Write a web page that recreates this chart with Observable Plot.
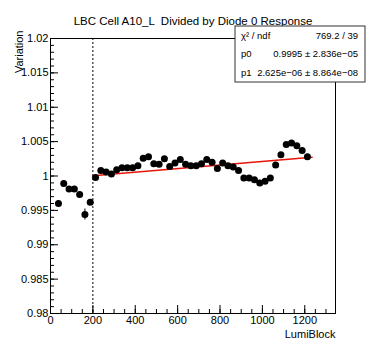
<!DOCTYPE html>
<html>
<head>
<meta charset="utf-8">
<script src="https://cdn.jsdelivr.net/npm/d3@7"></script>
<script src="https://cdn.jsdelivr.net/npm/@observablehq/plot@0.6"></script>
<style>
  html, body { margin: 0; padding: 0; background: #fff; }
  svg { display: block; }
</style>
</head>
<body>
<div id="chart"></div>
<script>
const title = "LBC Cell A10_L  Divided by Diode 0 Response";
const xTitle = "LumiBlock";
const yTitle = "Variation";

const lumiBlock = [37.5, 62.5, 87.5, 112.5, 137.5, 162.5, 187.5, 212.5, 237.5, 262.5,
  287.5, 312.5, 337.5, 362.5, 387.5, 412.5, 437.5, 462.5, 487.5, 512.5,
  537.5, 562.5, 587.5, 612.5, 637.5, 662.5, 687.5, 712.5, 737.5, 762.5,
  787.5, 812.5, 837.5, 862.5, 887.5, 912.5, 937.5, 962.5, 987.5, 1012.5,
  1037.5, 1062.5, 1087.5, 1112.5, 1137.5, 1162.5, 1187.5, 1212.5];
const variation = [0.9960, 0.9989, 0.9981, 0.9981, 0.9973, 0.9944, 0.9962, 0.9998, 1.0008, 1.0006,
  1.0003, 1.0009, 1.0012, 1.0012, 1.0012, 1.0015, 1.0026, 1.0028, 1.0018, 1.0017,
  1.0025, 1.0014, 1.0019, 1.0024, 1.0017, 1.0015, 1.0015, 1.0018, 1.0024, 1.0020,
  1.0011, 1.0019, 1.0015, 1.0013, 1.0008, 0.9997, 0.9997, 0.99945, 0.9990, 0.99925,
  0.9997, 1.0016, 1.0031, 1.0046, 1.0048, 1.0044, 1.0037, 1.0028];
const variationErr = [0.0004, 0.0003, 0.0003, 0.0003, 0.0003, 0.0008, 0.0004, 0.0003, 0.0003, 0.0003,
  0.0003, 0.0003, 0.0003, 0.0003, 0.0003, 0.0003, 0.0003, 0.0003, 0.0003, 0.0003,
  0.0003, 0.0003, 0.0003, 0.0003, 0.0003, 0.0003, 0.0003, 0.0003, 0.0003, 0.0003,
  0.0003, 0.0003, 0.0003, 0.0003, 0.0003, 0.0003, 0.0003, 0.0003, 0.0003, 0.0003,
  0.0003, 0.0003, 0.0003, 0.0003, 0.0003, 0.0003, 0.0003, 0.0003];

const fitP0 = 0.9995;
const fitP1 = 2.625e-06;
const fitRange = [200, 1235];
const cutLumiBlock = [200];

const statsLabels = ["\u03C7\u00B2 / ndf", "p0", "p1"];
const statsValues = ["769.2 / 39", "0.9995 \u00B1 2.836e\u221205", "2.625e\u221206 \u00B1 8.864e\u221208"];

const xDomain = [0, 1345];
const yDomain = [0.98, 1.02];
const xMajor = [0, 200, 400, 600, 800, 1000, 1200];
const xMinor = d3.range(0, 1345, 50);
const yMajor = [0.98, 0.985, 0.99, 0.995, 1, 1.005, 1.01, 1.015, 1.02];
const yMinor = d3.range(0, 41).map(i => +(0.98 + i * 0.001).toFixed(3));

const W = 366, H = 340;
const mL = 50, mR = 31, mT = 38, mB = 27;
const xPerPx = (xDomain[1] - xDomain[0]) / (W - mL - mR);
const yPerPx = (yDomain[1] - yDomain[0]) / (H - mT - mB);

const points = lumiBlock.map((x, i) => ({x, y: variation[i], e: variationErr[i]}));
const fit = fitRange.map(x => ({x, y: fitP0 + fitP1 * x}));

const font = "'Liberation Sans', Arial, Helvetica, sans-serif";

const plot = Plot.plot({
  width: W, height: H,
  marginLeft: mL, marginRight: mR, marginTop: mT, marginBottom: mB,
  style: {fontFamily: font, fontSize: "11px", color: "#000", background: "#fff"},
  x: {domain: xDomain},
  y: {domain: yDomain},
  marks: [
    Plot.ruleX(cutLumiBlock, {stroke: "#000", strokeWidth: 1, strokeDasharray: "2,2"}),
    Plot.ruleX(points, {x: "x", y1: d => d.y - d.e, y2: d => d.y + d.e, stroke: "#000", strokeWidth: 1}),
    Plot.line(fit, {x: "x", y: "y", stroke: "#e8140c", strokeWidth: 1.5}),
    Plot.dot(points, {x: "x", y: "y", r: 3.5, fill: "#000", stroke: "none"}),
    Plot.ruleX(xMinor, {y1: yDomain[0], y2: yDomain[0] + 4 * yPerPx, stroke: "#000"}),
    Plot.ruleX(xMajor, {y1: yDomain[0], y2: yDomain[0] + 8 * yPerPx, stroke: "#000"}),
    Plot.ruleY(yMinor, {x1: xDomain[0], x2: xDomain[0] + 4 * xPerPx, stroke: "#000"}),
    Plot.ruleY(yMajor, {x1: xDomain[0], x2: xDomain[0] + 8 * xPerPx, stroke: "#000"}),
    Plot.frame({stroke: "#000", strokeWidth: 1}),
    Plot.axisX({ticks: xMajor, tickSize: 0, tickPadding: 3, tickFormat: d => String(d), label: null, fontSize: 11}),
    Plot.axisY({ticks: yMajor, tickSize: 0, tickPadding: 2, tickFormat: d => String(+d.toFixed(3)), label: null, fontSize: 11}),
    Plot.text([xTitle], {frameAnchor: "bottom-right", textAnchor: "end", dy: 24, fontSize: 11}),
    Plot.text([yTitle], {frameAnchor: "top-left", textAnchor: "end", rotate: -90, dx: -35, dy: -8, fontSize: 11}),
    Plot.text([title], {frameAnchor: "top", dy: -22, fontSize: 11.5})
  ]
});

// Fit statistics box (ROOT stats pave)
const svg = d3.select(plot);
const box = {x: 235, y: 26, w: 130, h: 56};
const g = svg.append("g").attr("font-family", font).attr("font-size", 9.5).attr("text-anchor", "start");
g.append("rect").attr("x", box.x).attr("y", box.y).attr("width", box.w).attr("height", box.h)
  .attr("fill", "#fff").attr("stroke", "#333").attr("stroke-width", 1);
const rowH = box.h / statsLabels.length;
statsLabels.forEach((lab, i) => {
  const cy = box.y + rowH * (i + 0.5);
  g.append("text").attr("x", box.x + 6).attr("y", cy).attr("dy", "0.35em")
    .attr("text-anchor", "start").text(lab);
  g.append("text").attr("x", box.x + box.w - 7).attr("y", cy).attr("dy", "0.35em")
    .attr("text-anchor", "end").text(statsValues[i]);
});

document.getElementById("chart").appendChild(plot);
</script>
</body>
</html>
